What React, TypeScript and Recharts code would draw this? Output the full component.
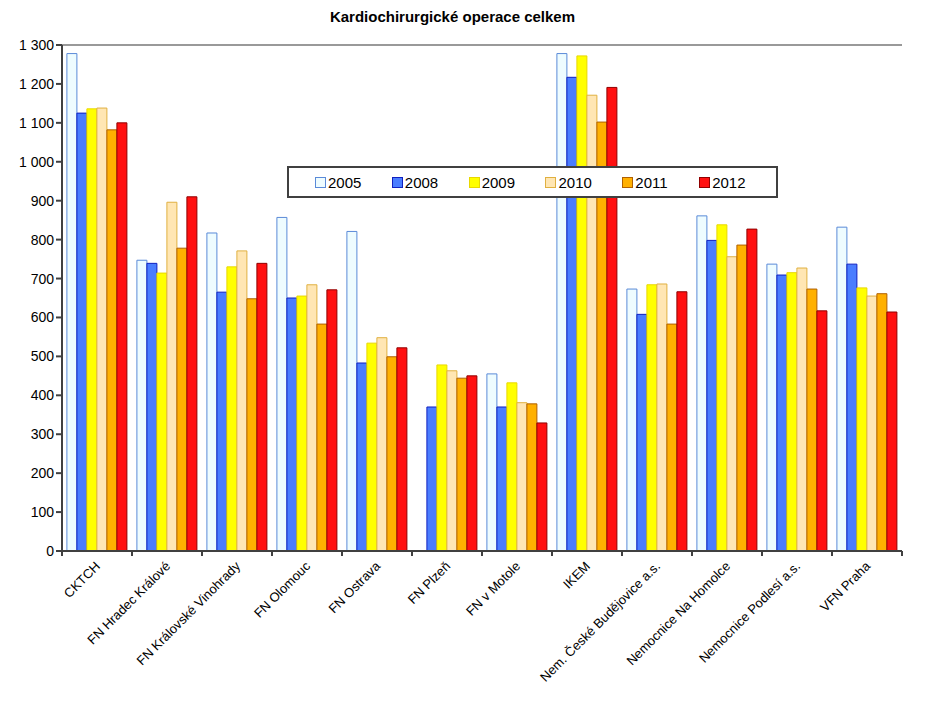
import { BarChart, Bar, XAxis, YAxis, ReferenceLine } from 'recharts';

const hospitals = [
  'CKTCH',
  'FN Hradec Králové',
  'FN Královské Vinohrady',
  'FN Olomouc',
  'FN Ostrava',
  'FN Plzeň',
  'FN v Motole',
  'IKEM',
  'Nem. České Budějovice a.s.',
  'Nemocnice Na Homolce',
  'Nemocnice Podlesí a.s.',
  'VFN Praha',
];

const years = ['2005', '2008', '2009', '2010', '2011', '2012'];

const v2005 = [1278, 747, 817, 857, 821, null, 455, 1278, 673, 861, 737, 832];
const v2008 = [1125, 739, 665, 650, 483, 370, 370, 1217, 608, 798, 709, 737];
const v2009 = [1136, 714, 730, 655, 534, 478, 432, 1272, 684, 838, 715, 676];
const v2010 = [1138, 896, 771, 684, 548, 463, 381, 1171, 686, 756, 727, 655];
const v2011 = [1082, 778, 648, 583, 499, 444, 378, 1102, 583, 786, 673, 661];
const v2012 = [1100, 910, 739, 671, 522, 450, 329, 1191, 666, 827, 617, 614];

const yTicks = [0, 100, 200, 300, 400, 500, 600, 700, 800, 900, 1000, 1100, 1200, 1300];

const seriesValues = [v2005, v2008, v2009, v2010, v2011, v2012];
const fills = ['#EEFCFF', '#4A7DFF', '#FFFF00', '#FFE6B3', '#FFB000', '#FF1010'];
const strokes = ['#5A8AD8', '#1020C0', '#E8D800', '#E0B040', '#B06000', '#900000'];

const data = hospitals.map((name, i) => {
  const row: Record<string, string | number | null> = { name };
  years.forEach((y, s) => {
    row[y] = seriesValues[s][i];
  });
  return row;
});

const fmt = (v: number) => (v >= 1000 ? `${Math.floor(v / 1000)} ${String(v % 1000).padStart(3, '0')}` : String(v));

// ticks sit between the categories, like Excel does
const CategoryTick = (props: any) => {
  const { x, y, payload, index, visibleTicksCount } = props;
  const half = payload.offset || 0;
  return (
    <g>
      <line x1={x - half} x2={x - half} y1={y - 8} y2={y - 3} stroke="#404040" strokeWidth={2} />
      {index === visibleTicksCount - 1 && (
        <line x1={x + half} x2={x + half} y1={y - 8} y2={y - 3} stroke="#404040" strokeWidth={2} />
      )}
      <text
        x={x + 4}
        y={y + 8}
        textAnchor="end"
        transform={`rotate(-45 ${x + 4} ${y + 8})`}
        fontSize={13}
        fill="#000"
        fontFamily="Liberation Sans, Arial, sans-serif"
      >
        {payload.value}
      </text>
    </g>
  );
};

const LegendBox = () => (
  <div
    style={{
      position: 'absolute',
      left: 287,
      top: 166,
      width: 491,
      border: '2px solid #404040',
      background: '#fff',
      height: 32,
      boxSizing: 'border-box',
      display: 'flex',
      alignItems: 'center',
      paddingLeft: 26,
      fontFamily: 'Liberation Sans, Arial, sans-serif',
      fontSize: 15,
      color: '#000',
    }}
  >
    {years.map((y, i) => (
      <div key={y} style={{ display: 'flex', alignItems: 'center', width: 78 }}>
        <span
          style={{
            display: 'inline-block',
            width: 9,
            height: 9,
            background: fills[i],
            border: `1px solid ${strokes[i]}`,
            marginRight: 2,
          }}
        />
        {y}
      </div>
    ))}
  </div>
);

export default function App() {
  return (
    <div style={{ position: 'absolute', left: 0, top: 0, width: 936, height: 705, background: '#fff' }}>
      <div
        style={{
          position: 'absolute',
          top: 8,
          left: 0,
          width: 905,
          textAlign: 'center',
          fontFamily: 'Liberation Sans, Arial, sans-serif',
          fontWeight: 'bold',
          fontSize: 15,
          color: '#000',
        }}
      >
        Kardiochirurgické operace celkem
      </div>
      <BarChart
        width={936}
        height={705}
        data={data}
        margin={{ top: 45, right: 34, bottom: 0, left: 0 }}
        barCategoryGap="7%"
        barGap={0}
      >
        <XAxis
          dataKey="name"
          interval={0}
          height={154}
          tickLine={false}
          axisLine={{ stroke: '#404040', strokeWidth: 2 }}
          tick={<CategoryTick />}
        />
        <YAxis
          domain={[0, 1300]}
          ticks={yTicks}
          interval={0}
          width={62}
          tickFormatter={fmt}
          axisLine={{ stroke: '#404040', strokeWidth: 2 }}
          tickLine={{ stroke: '#404040', strokeWidth: 2 }}
          tickSize={6}
          tick={{ fontSize: 14, fill: '#000', fontFamily: 'Liberation Sans, Arial, sans-serif' }}
        />
        <YAxis
          yAxisId="frame"
          orientation="right"
          width={0}
          tick={false}
          tickLine={false}
          axisLine={{ stroke: '#999999', strokeWidth: 2 }}
        />
        <ReferenceLine y={1300} stroke="#999999" strokeWidth={2} />
        {years.map((y, i) => (
          <Bar
            key={y}
            dataKey={y}
            fill={fills[i]}
            stroke={strokes[i]}
            strokeWidth={1}
            isAnimationActive={false}
          />
        ))}
      </BarChart>
      <LegendBox />
    </div>
  );
}
